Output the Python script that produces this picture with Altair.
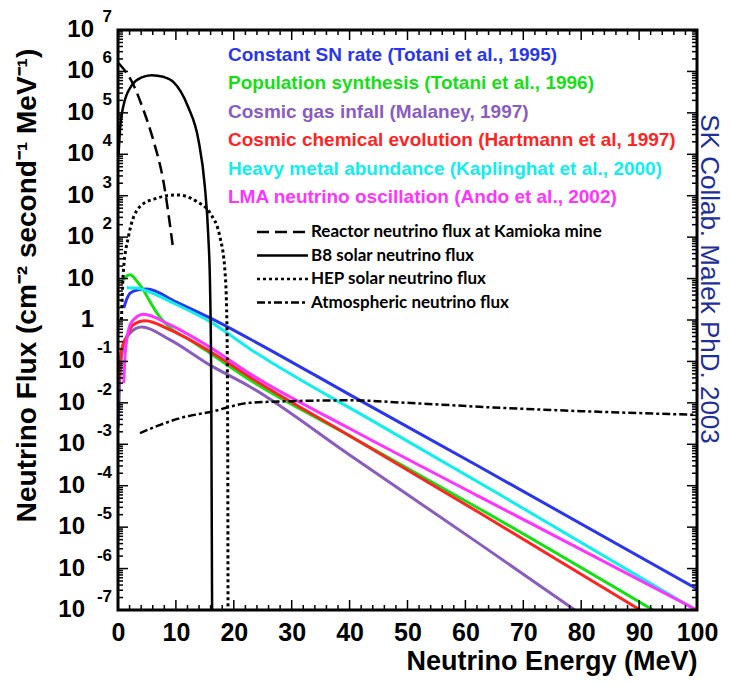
import altair as alt
import pandas as pd

# ---------------- data ----------------
blue_E = [1.0, 1.5, 2.1, 3.5, 5.0, 10.0, 15.9, 22.8, 40.0, 62.5, 100.0]
blue_F = [1.95, 3.16, 4.47, 5.37, 5.62, 2.75, 1.12, 0.347, 0.0158, 2.82e-4, 3.24e-7]

green_E = [0.6, 1.2, 2.1, 3.2, 4.4, 5.5, 6.7, 9.0, 12.4, 15.9, 22.8, 40.0, 62.5, 92.4]
green_F = [7.76, 10.5, 12.3, 8.91, 5.25, 2.82, 1.48, 0.646, 0.331, 0.158, 0.0355, 1.6e-3, 2.75e-5, 1e-7]

purple_E = [0.05, 0.3, 0.9, 2.1, 4.1, 9.0, 15.9, 22.8, 40.0, 62.5, 78.9]
purple_F = [2.5e-3, 0.0316, 0.229, 0.49, 0.676, 0.331, 0.0813, 0.0245, 5.5e-4, 3.89e-6, 1e-7]

red_E = [0.05, 0.35, 0.8, 1.5, 2.6, 4.7, 9.0, 15.9, 22.8, 40.0, 62.5, 90.2]
red_F = [0.0245, 0.107, 0.24, 0.398, 0.759, 0.955, 0.575, 0.174, 0.0417, 1.6e-3, 2.19e-5, 1e-7]

cyan_E = [1.5, 3.2, 5.0, 10.0, 15.9, 22.8, 45.0, 66.0, 99.5]
cyan_F = [6.03, 5.89, 5.01, 2.40, 0.912, 0.2, 3.02e-3, 6.03e-5, 1.05e-7]

magenta_E = [1.0, 1.2, 1.5, 2.4, 4.4, 9.0, 15.9, 22.8, 40.0, 62.5, 100.0]
magenta_F = [0.0302, 0.126, 0.331, 0.912, 1.38, 0.759, 0.219, 0.0501, 2.4e-3, 5.37e-5, 1e-7]

reactor_E = [0.1, 0.35, 2.4, 4.4, 6.1, 7.8, 9.55]
reactor_F = [1.58e6, 1.45e6, 5.62e5, 1.17e5, 2.19e4, 2.4e3, 49.0]

b8_E = [0.1, 0.35, 0.9, 2.4, 4.0, 5.8, 7.8, 9.55, 12.1, 13.9, 15.0, 15.6, 15.9, 16.1, 16.25]
b8_F = [1e4, 3.89e4, 1.41e5, 4.68e5, 7.08e5, 8.13e5, 7.41e5, 5.62e5, 1.41e5, 2.19e4, 1.66e3, 102.0, 6.31, 0.0316, 1e-7]

hep_E = [0.6, 0.9, 1.8, 3.8, 6.7, 10.1, 13.6, 15.9, 17.6, 18.5, 18.8, 18.95, 19.0]
hep_F = [1.0, 13.5, 102.0, 550.0, 871.0, 1047.0, 724.0, 380.0, 102.0, 13.5, 1.0, 1e-3, 1e-7]

atm_E = [3.8, 7.3, 10.7, 15.9, 22.8, 30.0, 40.0, 50.0, 66.0, 80.0, 100.0]
atm_F = [1.86e-3, 2.95e-3, 4.27e-3, 6.03e-3, 0.01, 0.011, 0.0115, 0.01, 7.59e-3, 6.31e-3, 5.13e-3]

model_labels = [
    "Constant SN rate (Totani et al., 1995)",
    "Population synthesis (Totani et al., 1996)",
    "Cosmic gas infall (Malaney, 1997)",
    "Cosmic chemical evolution (Hartmann et al, 1997)",
    "Heavy metal abundance (Kaplinghat et al., 2000)",
    "LMA neutrino oscillation (Ando et al., 2002)",
]
model_colors = ["#2a36ee", "#14e014", "#8a5cc0", "#ff2424", "#10eeee", "#ff33ff"]

bg_labels = [
    "Reactor neutrino flux at Kamioka mine",
    "B8 solar neutrino flux",
    "HEP solar neutrino flux",
    "Atmospheric neutrino flux",
]
bg_dashes = [[12, 6], [1, 0], [3, 3], [8, 3, 3, 3]]

x_major = list(range(0, 101, 10))
x_minor = [v for v in range(0, 101, 2) if v % 10]
y_exps = list(range(-7, 8))
y_decades = [10.0 ** k for k in y_exps]
y_minor = [m * 10.0 ** k for k in range(-7, 7) for m in range(2, 10)]

side_note = "SK Collab. Malek PhD. 2003"
x_title = "Neutrino Energy (MeV)"
y_title = "Neutrino Flux (cm⁻² second⁻¹ MeV⁻¹)"

# ---------------- styling ----------------
FONT = "Liberation Sans"
W, H = 579, 580

xs = alt.Scale(domain=[0, 100], nice=False, zero=False)
ys = alt.Scale(type="log", domain=[1e-7, 1e7], nice=False)

x_axis = alt.Axis(
    orient="bottom", values=x_major, domain=False, ticks=False, tickSize=0, grid=False,
    labelFont=FONT, labelFontSize=25, labelFontWeight="bold", labelColor="black",
    labelPadding=10, labelOverlap=False, labelFlush=False,
    title=x_title, titleFont=FONT, titleFontSize=27, titleFontWeight="bold",
    titleColor="black", titleX=W, titleY=59, titleAlign="right",
    titleBaseline="alphabetic",
)
y_axis = alt.Axis(
    orient="left", labels=False, domain=False, ticks=False, tickSize=0, grid=False,
    title=y_title, titleFont=FONT, titleFontSize=28, titleFontWeight="bold",
    titleColor="black", titleX=-91, titleY=255, titleAlign="center",
    titleBaseline="middle", titleAngle=270,
)


def line_layer(E, F, color, width, dash, xaxis=None, yaxis=None):
    df = pd.DataFrame({"E": E, "F": F})
    kw = dict(color=color, strokeWidth=width, interpolate="monotone", clip=True)
    if dash is not None:
        kw["strokeDash"] = dash
    return alt.Chart(df).mark_line(**kw).encode(
        x=alt.X("E:Q", scale=xs, axis=xaxis),
        y=alt.Y("F:Q", scale=ys, axis=yaxis),
    )


layers = [
    line_layer(blue_E, blue_F, model_colors[0], 3, None, x_axis, y_axis),
    line_layer(green_E, green_F, model_colors[1], 3, None),
    line_layer(purple_E, purple_F, model_colors[2], 3, None),
    line_layer(red_E, red_F, model_colors[3], 3, None),
    line_layer(cyan_E, cyan_F, model_colors[4], 3, None),
    line_layer(magenta_E, magenta_F, model_colors[5], 3, None),
    line_layer(reactor_E, reactor_F, "black", 2.5, bg_dashes[0]),
    line_layer(b8_E, b8_F, "black", 2.5, None),
    line_layer(hep_E, hep_F, "black", 3, bg_dashes[2]),
    line_layer(atm_E, atm_F, "black", 2.5, bg_dashes[3]),
]

# ----- frame and inward ticks on all four sides (ROOT style) -----
layers.append(
    alt.Chart(pd.DataFrame({"f": [0]})).mark_rect(
        filled=False, stroke="black", strokeWidth=3,
    ).encode(x=alt.value(0), x2=alt.value(W), y=alt.value(0), y2=alt.value(H))
)


def xticks(vals, y0, y1):
    return alt.Chart(pd.DataFrame({"v": vals})).mark_rule(color="black", strokeWidth=1.5).encode(
        x=alt.X("v:Q", scale=xs, axis=None), y=alt.value(y0), y2=alt.value(y1))


def yticks(vals, x0, x1):
    return alt.Chart(pd.DataFrame({"v": vals})).mark_rule(color="black", strokeWidth=1.5).encode(
        y=alt.Y("v:Q", scale=ys, axis=None), x=alt.value(x0), x2=alt.value(x1))


layers += [
    xticks(x_major, H, H - 10), xticks(x_minor, H, H - 5),
    xticks(x_major, 0, 10), xticks(x_minor, 0, 5),
    yticks(y_decades, 0, 10), yticks(y_minor, 0, 5),
    yticks(y_decades, W, W - 10), yticks(y_minor, W, W - 5),
]

# ----- y tick labels: "10" with a raised exponent -----
ylab = pd.DataFrame({
    "v": y_decades,
    "base": ["1" if k == 0 else "10" for k in y_exps],
    "exp": ["" if k in (0, 1) else str(k) for k in y_exps],
    "neg": [k < 0 for k in y_exps],
})
lab_style = dict(align="right", baseline="middle", font=FONT, fontWeight="bold", color="black")
layers += [
    alt.Chart(ylab).transform_filter("!datum.neg").mark_text(fontSize=24, **lab_style).encode(
        y=alt.Y("v:Q", scale=ys, axis=None), x=alt.value(-24), text="base:N"),
    alt.Chart(ylab).transform_filter("datum.neg").mark_text(fontSize=24, **lab_style).encode(
        y=alt.Y("v:Q", scale=ys, axis=None), x=alt.value(-33), text="base:N"),
    alt.Chart(ylab).mark_text(fontSize=17, dy=-13, **lab_style).encode(
        y=alt.Y("v:Q", scale=ys, axis=None), x=alt.value(-6), text="exp:N"),
]

# coloured model legend
for i, (lab, col) in enumerate(zip(model_labels, model_colors)):
    layers.append(
        alt.Chart(pd.DataFrame({"t": [lab]})).mark_text(
            align="left", baseline="middle", font=FONT, fontSize=19, fontWeight="bold",
            color=col,
        ).encode(x=alt.value(110), y=alt.value(25 + 28.4 * i), text="t:N")
    )

# background-flux legend with line samples
for i, (lab, dash) in enumerate(zip(bg_labels, bg_dashes)):
    yy = 202 + 23.5 * i
    layers.append(
        alt.Chart(pd.DataFrame({"t": [lab]})).mark_rule(
            color="black", strokeWidth=2.5, strokeDash=dash,
        ).encode(x=alt.value(139), x2=alt.value(190), y=alt.value(yy))
    )
    layers.append(
        alt.Chart(pd.DataFrame({"t": [lab]})).mark_text(
            align="left", baseline="middle", font="Lato", fontSize=17, fontWeight="bold",
            color="black",
        ).encode(x=alt.value(193), y=alt.value(yy), text="t:N")
    )

# rotated credit on the right
layers.append(
    alt.Chart(pd.DataFrame({"t": [side_note]})).mark_text(
        angle=90, align="center", baseline="middle", font=FONT, fontSize=26,
        color="#1e2f9a",
    ).encode(x=alt.value(W + 12), y=alt.value(249), text="t:N")
)

chart = (
    alt.layer(*layers)
    .resolve_axis(x="independent", y="independent")
    .properties(
        width=W, height=H,
        autosize=alt.AutoSizeParams(type="none"),
        padding={"left": 110, "top": 22, "right": 26, "bottom": 66},
    )
    .configure_view(strokeWidth=0)
    .configure(background="white")
)

chart.save("out.html", embed_options={"renderer": "svg", "actions": False})
